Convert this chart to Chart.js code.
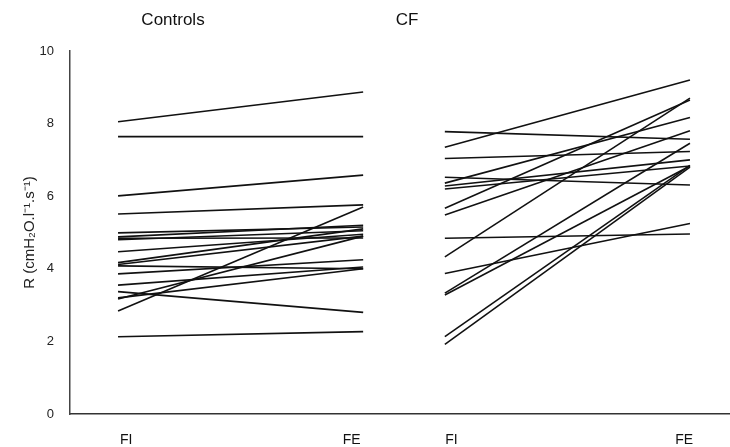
<!DOCTYPE html>
<html lang="en">
  <head>
    <meta charset="UTF-8" />
    <title>Controls vs CF</title>
    <script src="https://cdn.jsdelivr.net/npm/chart.js"></script>
    <style>
      body { margin: 0; background: #fff; }
      #wrap { width: 730px; height: 447px; }
    </style>
  </head>
  <body>
    <div id="wrap"><canvas id="myChart"></canvas></div>

    <script>
      // x positions of the four columns (controls FI/FE, CF FI/FE)
      const colX = [0, 3, 4, 7];
      const tickLabels = ["FI", "FE", "FI", "FE"];
      const panelTitles = ["Controls", "CF"];

      // Controls: resistance at FI and FE
      const controlsFI = [8.05, 7.64, 6.01, 5.51, 4.99, 4.88, 4.84, 4.80, 4.47, 4.17, 4.12, 4.08, 3.86, 3.55, 3.37, 3.20, 3.17, 2.84, 2.13];
      const controlsFE = [8.87, 7.64, 6.58, 5.76, 5.15, 5.20, 4.85, 5.05, 4.95, 5.10, 4.90, 4.00, 4.25, 4.05, 2.80, 4.00, 4.90, 5.70, 2.27];

      // CF: resistance at FI and FE
      const cfFI = [7.78, 7.35, 7.04, 6.52, 6.36, 6.28, 6.20, 5.67, 5.48, 4.84, 4.33, 3.87, 3.33, 3.28, 2.13, 1.92];
      const cfFE = [7.57, 9.20, 7.23, 6.31, 8.17, 7.00, 6.83, 8.65, 7.80, 4.96, 8.70, 5.25, 7.46, 6.83, 6.85, 6.80];

      const yTicks = [0, 2, 4, 6, 8, 10];

      const pairLine = (x0, x1, a, b) => ({
        data: [{ x: x0, y: a }, { x: x1, y: b }],
        borderColor: "#111",
        borderWidth: 1.6,
        pointRadius: 0,
        fill: false,
      });

      const datasets = [];
      controlsFI.forEach((v, i) => datasets.push(pairLine(colX[0], colX[1], v, controlsFE[i])));
      cfFI.forEach((v, i) => datasets.push(pairLine(colX[2], colX[3], v, cfFE[i])));

      // panel titles
      const titlesPlugin = {
        id: "panelTitles",
        afterDraw(chart) {
          const ctx = chart.ctx;
          ctx.save();
          ctx.font = "17px 'Liberation Sans', Arial, sans-serif";
          ctx.fillStyle = "#111";
          ctx.textAlign = "center";
          ctx.textBaseline = "middle";
          ctx.fillText(panelTitles[0], 173, 20);
          ctx.fillText(panelTitles[1], 407, 20);
          ctx.restore();
        },
      };

      const ctx = document.querySelector("#myChart").getContext("2d");
      const myChart = new Chart(ctx, {
        type: "line",
        data: { datasets: datasets },
        options: {
          responsive: true,
          maintainAspectRatio: false,
          animation: false,
          layout: { padding: { top: 51, right: 0, bottom: 0, left: 0 } },
          plugins: { legend: { display: false }, tooltip: { enabled: false } },
          scales: {
            x: {
              type: "linear",
              min: -0.588,
              max: 7.49,
              grid: { display: false },
              border: { display: true, color: "#333", width: 1.5 },
              afterFit: (s) => { s.height = 33; },
              afterBuildTicks: (s) => {
                s.ticks = [0.1, 2.86, 4.08, 6.93].map((v) => ({ value: v }));
              },
              ticks: {
                padding: 10,
                color: "#111",
                font: { family: "'Liberation Sans', Arial, sans-serif", size: 14 },
                callback: (v, i) => tickLabels[i],
                maxRotation: 0,
                autoSkip: false,
              },
            },
            y: {
              min: 0,
              max: 10,
              grid: { display: false },
              border: { display: true, color: "#444", width: 1.5 },
              afterFit: (s) => { s.width = 70; },
              afterBuildTicks: (s) => {
                s.ticks = yTicks.map((v) => ({ value: v }));
              },
              ticks: {
                padding: 8,
                color: "#222",
                font: { family: "'Liberation Sans', Arial, sans-serif", size: 13 },
              },
              title: {
                display: true,
                text: "R (cmH\u2082O.l\u207B\u00B9.s\u207B\u00B9)",
                color: "#222",
                font: { family: "'Liberation Sans', Arial, sans-serif", size: 15 },
                padding: { top: 21, bottom: 0 },
              },
            },
          },
        },
        plugins: [titlesPlugin],
      });
    </script>
  </body>
</html>
